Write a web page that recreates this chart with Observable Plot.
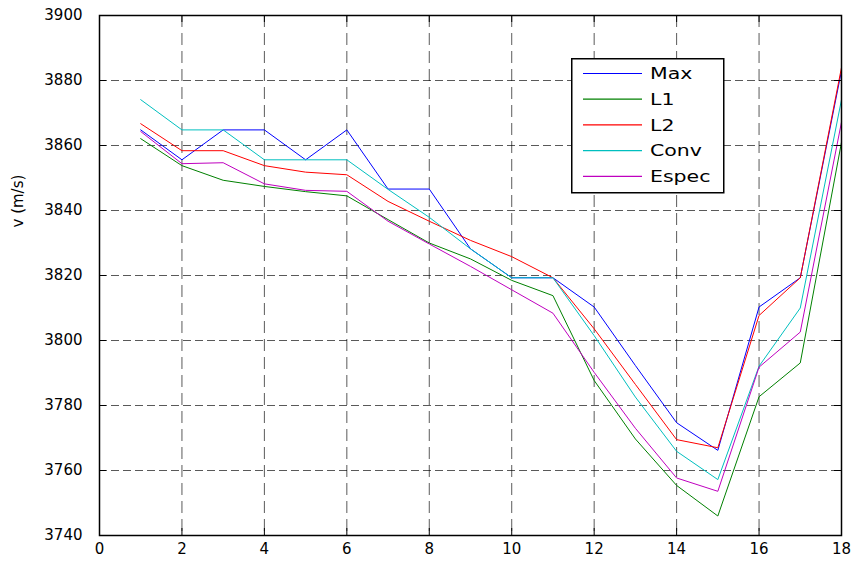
<!DOCTYPE html>
<html>
<head>
<meta charset="utf-8">
<script src="https://cdn.jsdelivr.net/npm/d3@7"></script>
<script src="https://cdn.jsdelivr.net/npm/@observablehq/plot@0.6"></script>
<style>
  html, body { margin: 0; padding: 0; background: #fff; }
  #wrap { position: relative; width: 854px; height: 561px; font-family: "DejaVu Sans", sans-serif; }
  #legend { position: absolute; left: 571px; top: 58px; }
</style>
</head>
<body>
<div id="wrap"></div>
<script>
const runs = [1,2,3,4,5,6,7,8,9,10,11,12,13,14,15,16,17,18];
const seriesNames = ["Max", "L1", "L2", "Conv", "Espec"];
const seriesColors = ["#0000ff", "#008000", "#ff0000", "#00bfbf", "#bf00bf"];
const maxV   = [3864.8,3855.6,3864.8,3864.8,3855.6,3864.8,3846.6,3846.6,3828.2,3819.3,3819.3,3810.3,3792.3,3774.7,3766.2,3810.3,3819.3,3883.0];
const l1V    = [3862.1,3853.8,3849.3,3847.4,3845.8,3844.5,3837.2,3830.0,3825.1,3818.5,3813.8,3787.7,3769.7,3755.4,3746.0,3782.7,3793.1,3861.0];
const l2V    = [3866.7,3858.4,3858.4,3853.8,3851.8,3851.0,3842.8,3836.7,3830.8,3825.8,3819.3,3803.6,3786.5,3769.5,3767.0,3807.7,3819.3,3884.0];
const convV  = [3874.1,3864.8,3864.8,3855.6,3855.6,3855.6,3846.5,3837.9,3828.2,3819.3,3819.3,3801.5,3782.6,3765.9,3757.2,3792.1,3810.0,3874.1];
const especV = [3864.3,3854.4,3854.7,3848.2,3846.2,3845.9,3836.7,3829.7,3822.8,3815.6,3808.4,3790.2,3773.0,3757.7,3753.6,3791.8,3802.6,3867.2];
const xTicks = [0,2,4,6,8,10,12,14,16,18];
const yTicks = [3740,3760,3780,3800,3820,3840,3860,3880,3900];
const yLabel = "v (m/s)";

const seriesValues = [maxV, l1V, l2V, convV, especV];
const rows = [];
seriesNames.forEach((name, s) => {
  runs.forEach((r, i) => rows.push({series: name, run: r, v: seriesValues[s][i]}));
});

const xGrid = xTicks.slice(1, -1);
const yGrid = yTicks.slice(1, -1);

const plot = Plot.plot({
  width: 854,
  height: 561,
  marginLeft: 99,
  marginRight: 13,
  marginTop: 15,
  marginBottom: 26,
  x: {domain: [0, 18]},
  y: {domain: [3740, 3900]},
  color: {domain: seriesNames, range: seriesColors},
  style: {fontFamily: "DejaVu Sans, sans-serif", fontSize: "15px", background: "white", color: "black", overflow: "visible"},
  marks: [
    Plot.ruleX(xGrid, {stroke: "#000", strokeOpacity: 0.65, strokeDasharray: "12,6"}),
    Plot.ruleY(yGrid, {stroke: "#000", strokeOpacity: 0.65, strokeDasharray: "8,4"}),
    Plot.line(rows, {x: "run", y: "v", stroke: "series", strokeWidth: 1}),
    Plot.ruleX(xTicks, {stroke: "#000", insetTop: 513}),
    Plot.ruleX(xTicks, {stroke: "#000", insetBottom: 513}),
    Plot.ruleY(yTicks, {stroke: "#000", insetRight: 735}),
    Plot.ruleY(yTicks, {stroke: "#000", insetLeft: 735}),
    Plot.frame({stroke: "#000", strokeWidth: 1.5}),
    Plot.axisX({ticks: xTicks, tickSize: 0, tickPadding: 8, tickFormat: d => String(d), label: null}),
    Plot.axisY({ticks: yTicks, tickSize: 0, tickPadding: 17, tickFormat: d => String(d), label: null}),
    Plot.text([yLabel], {text: d => d, frameAnchor: "left", rotate: -90, dx: -81, dy: -48, fontSize: 15})
  ]
});

const wrap = document.getElementById("wrap");
wrap.appendChild(plot);

// Legend (inside plot area, top right)
const ns = "http://www.w3.org/2000/svg";
const lg = document.createElementNS(ns, "svg");
lg.setAttribute("id", "legend");
lg.setAttribute("width", "154");
lg.setAttribute("height", "136");
const box = document.createElementNS(ns, "rect");
box.setAttribute("x", "0.75"); box.setAttribute("y", "0.75");
box.setAttribute("width", "152"); box.setAttribute("height", "134");
box.setAttribute("fill", "#fff"); box.setAttribute("stroke", "#000"); box.setAttribute("stroke-width", "1.5");
lg.appendChild(box);
seriesNames.forEach((name, i) => {
  const cy = 15.5 + i * 25.7;
  const ln = document.createElementNS(ns, "line");
  ln.setAttribute("x1", "12"); ln.setAttribute("x2", "71");
  ln.setAttribute("y1", cy); ln.setAttribute("y2", cy);
  ln.setAttribute("stroke", seriesColors[i]); ln.setAttribute("stroke-width", "1.2");
  lg.appendChild(ln);
  const tx = document.createElementNS(ns, "text");
  tx.setAttribute("transform", `translate(79,${cy}) scale(1.28,1)`);
  tx.setAttribute("dy", "0.36em");
  tx.setAttribute("font-family", "DejaVu Sans, sans-serif");
  tx.setAttribute("font-size", "16");
  tx.setAttribute("fill", "#000");
  tx.textContent = name;
  lg.appendChild(tx);
});
wrap.appendChild(lg);
</script>
</body>
</html>
